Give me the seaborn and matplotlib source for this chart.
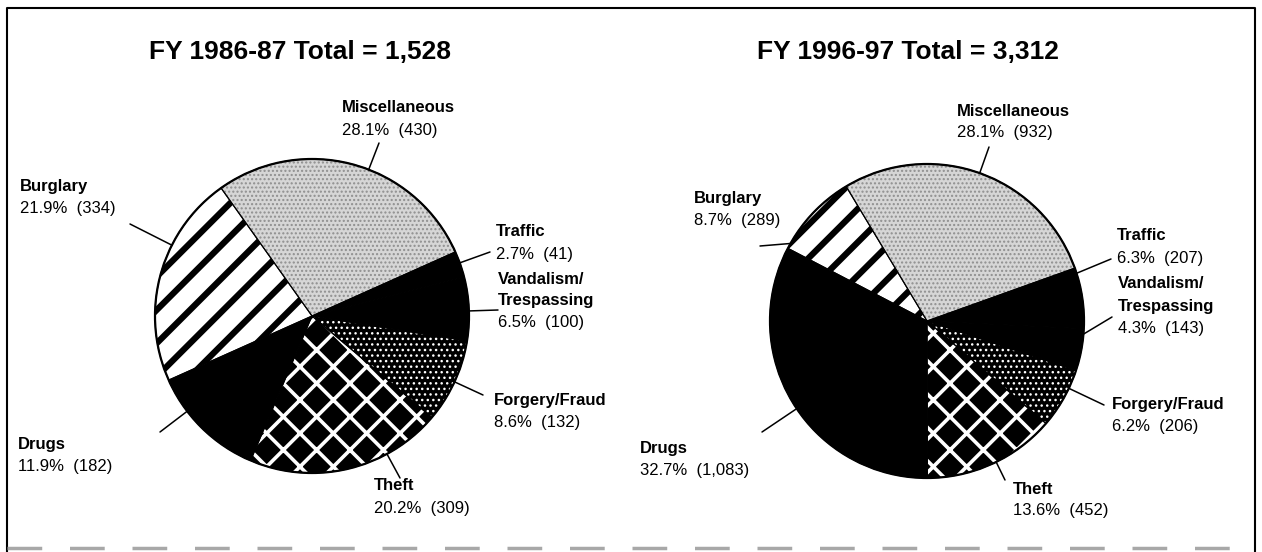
import numpy as np
import matplotlib
matplotlib.use("Agg")
import matplotlib.pyplot as plt
import seaborn as sns
from matplotlib.patches import Circle

sns.set_style("white")
plt.rcParams['font.family'] = ['Liberation Sans', 'DejaVu Sans']
plt.rcParams['text.color'] = 'black'

# data
categories = ["Miscellaneous", "Traffic", "Vandalism/\nTrespassing", "Forgery/Fraud",
              "Theft", "Drugs", "Burglary"]
counts_8687 = [430, 41, 100, 132, 309, 182, 334]
counts_9697 = [932, 207, 143, 206, 452, 1083, 289]
pct_8687 = [28.1, 2.7, 6.5, 8.6, 20.2, 11.9, 21.9]
pct_9697 = [28.1, 6.3, 4.3, 6.2, 13.6, 32.7, 8.7]
titles = ["FY 1986-87 Total = 1,528", "FY 1996-97 Total = 3,312"]

# look of each slice: face, hatch, hatch colour, hatch width
faces = ["#d6d6d6", "black", "black", "black", "black", "black", "white"]
hatches = ["....", None, None, "...", "x", None, "/"]
hatch_cols = ["#8f8f8f", "black", "black", "white", "white", "black", "black"]
hatch_lws = [1.0, 1.0, 1.0, 1.0, 2.6, 1.0, 4.5]

H = 552
fig = plt.figure(figsize=(12.62, 5.52), dpi=100)
ax = fig.add_axes([0, 0, 1, 1])

# pie centres in pixels (y from top), label anchors and leader-line ends
pies = [
    dict(counts=counts_8687, pct=pct_8687, center=(312, 316), start=125.4,
         title_xy=(300, 52),
         labels=[(342, 108), (496, 232), (498, 279), (494, 400), (374, 486), (18, 445), (20, 187)],
         ends=[(379, 143), (490, 252), (498, 310), (483, 395), (400, 478), (160, 432), (130, 224)]),
    dict(counts=counts_9697, pct=pct_9697, center=(927, 321), start=121.0,
         title_xy=(908, 52),
         labels=[(957, 111), (1117, 236), (1118, 284), (1112, 404), (1013, 489), (640, 448), (694, 198)],
         ends=[(989, 147), (1111, 259), (1112, 317), (1104, 405), (1005, 480), (762, 432), (760, 246)]),
]
R = 157

for p in pies:
    cx, cy = p["center"][0], H - p["center"][1]
    wedges, _ = ax.pie(p["counts"], center=(cx, cy), radius=R, startangle=p["start"],
                       counterclock=False, colors=faces, wedgeprops=dict(linewidth=0))
    for w, ht, hc, hl in zip(wedges, hatches, hatch_cols, hatch_lws):
        if ht:
            w.set_hatch(ht)
            w.set_edgecolor(hc)
            w.set_linewidth(0)
            if hasattr(w, "set_hatch_linewidth"):
                w.set_hatch_linewidth(hl)
    # slice borders and outline
    ax.pie(p["counts"], center=(cx, cy), radius=R, startangle=p["start"], counterclock=False,
           colors=["none"] * 7, wedgeprops=dict(linewidth=0.8, edgecolor="black", fill=False))
    ax.add_patch(Circle((cx, cy), R, fill=False, ec="black", lw=1.6, zorder=5))

    # leader lines: from the slice's edge toward the label
    for w, (ex, ey) in zip(wedges, p["ends"]):
        ey = H - ey
        ang = np.degrees(np.arctan2(ey - cy, ex - cx))
        ang = w.theta1 + (ang - w.theta1) % 360
        if ang > w.theta2:
            ang = w.theta1 + 2 if (ang - w.theta2) > (360 - (ang - w.theta1)) else w.theta2 - 2
        ang = min(max(ang, w.theta1 + 2), w.theta2 - 2)
        a = np.deg2rad(ang)
        ax.plot([cx + R * np.cos(a), ex], [cy + R * np.sin(a), ey],
                color="black", lw=1.1, zorder=6)

    # labels
    for name, c, pc, (lx, ly) in zip(categories, p["counts"], p["pct"], p["labels"]):
        lines = name.split("\n")
        for i, ln in enumerate(lines):
            ax.text(lx, H - ly - 22 * i, ln, fontsize=12, fontweight="bold",
                    ha="left", va="center", color="black")
        ax.text(lx, H - ly - 22 * len(lines), f"{pc:.1f}%  ({c:,})", fontsize=12,
                ha="left", va="center", color="black")

for p, t in zip(pies, titles):
    ax.text(p["title_xy"][0], H - p["title_xy"][1], t, fontsize=19, fontweight="bold",
            ha="center", va="center", color="black")

# frame around the figure
ax.plot([7, 7, 1255, 1255], [0, H - 8, H - 8, 0], color="black", lw=1.5)
ax.plot([7, 1255], [4, 4], color="#a8a8a8", lw=2.5, linestyle=(0, (10, 8)))

ax.set_xlim(0, 1262)
ax.set_ylim(0, H)
ax.set_aspect("auto")
ax.axis("off")

fig.savefig("out.png", dpi=100)
